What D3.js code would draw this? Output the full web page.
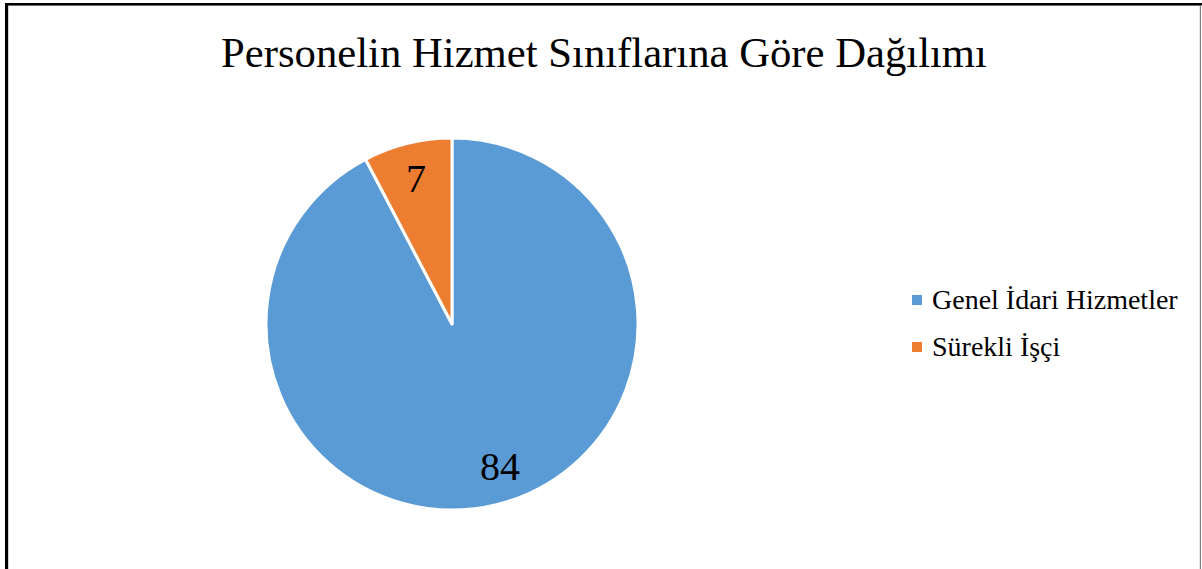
<!DOCTYPE html>
<html>
<head>
<meta charset="utf-8">
<script src="https://cdnjs.cloudflare.com/ajax/libs/d3/7.8.5/d3.min.js"></script>
<style>
body{margin:0;padding:0;background:#fff;overflow:hidden;}
svg{display:block;font-family:"Liberation Serif","Times New Roman",serif;}
</style>
</head>
<body>
<div id="chart"></div>
<script>
var title = "Personelin Hizmet Sınıflarına Göre Dağılımı";
var categories = ["Genel İdari Hizmetler", "Sürekli İşçi"];
var values = [84, 7];
var colors = ["#5B9BD5", "#ED7D31"];

var W = 1202, H = 569;
var cx = 452, cy = 324, r = 186;

var svg = d3.select("#chart").append("svg")
    .attr("width", W).attr("height", H);

// frame
svg.append("rect").attr("x", 8.5).attr("y", 5.5).attr("width", 1191.5).attr("height", 620)
    .attr("fill", "#fff").attr("stroke", "#d0d0d0");
svg.append("rect").attr("x", 5).attr("y", 3).attr("width", W - 5).attr("height", 2.5).attr("fill", "#000");
svg.append("rect").attr("x", 5).attr("y", 3).attr("width", 3).attr("height", H).attr("fill", "#000");
svg.append("line").attr("x1", 1200.5).attr("x2", 1200.5).attr("y1", 5).attr("y2", H)
    .attr("stroke", "#808080");

svg.append("text")
    .attr("x", 604).attr("y", 67)
    .attr("text-anchor", "middle")
    .attr("font-size", "42.7px")
    .attr("fill", "#000")
    .text(title);

var color = d3.scaleOrdinal().domain(categories).range(colors);
var pie = d3.pie().sort(null).value(function(d){ return d.v; });
var data = pie(categories.map(function(c, i){ return {c: c, v: values[i]}; }));
var arc = d3.arc().innerRadius(0).outerRadius(r);
var labelArc = d3.arc().innerRadius(150).outerRadius(150);

var g = svg.append("g").attr("transform", "translate(" + cx + "," + cy + ")");
g.selectAll("path").data(data).enter().append("path")
    .attr("d", arc)
    .attr("fill", function(d){ return color(d.data.c); })
    .attr("stroke", "#fff")
    .attr("stroke-width", 3)
    .attr("stroke-linejoin", "round");

g.selectAll("text").data(data).enter().append("text")
    .attr("transform", function(d){
        var p = labelArc.centroid(d);
        // Excel "best fit" nudges the big slice label a little sideways
        if (d.index === 0) p = [p[0] + 12, p[1] - 4];
        return "translate(" + p[0] + "," + p[1] + ")";
    })
    .attr("text-anchor", "middle")
    .attr("dy", "0.35em")
    .attr("font-size", "40px")
    .attr("fill", "#000")
    .text(function(d){ return d.data.v; });

var leg = svg.append("g").attr("transform", "translate(912,300)");
var row = leg.selectAll("g").data(categories).enter().append("g")
    .attr("transform", function(d, i){ return "translate(0," + i * 47 + ")"; });
row.append("rect").attr("x", 0).attr("y", -5).attr("width", 10).attr("height", 10)
    .attr("fill", function(d){ return color(d); });
row.append("text").attr("x", 20).attr("y", 9)
    .attr("font-size", "28px").attr("fill", "#000")
    .text(function(d){ return d; });
</script>
</body>
</html>
